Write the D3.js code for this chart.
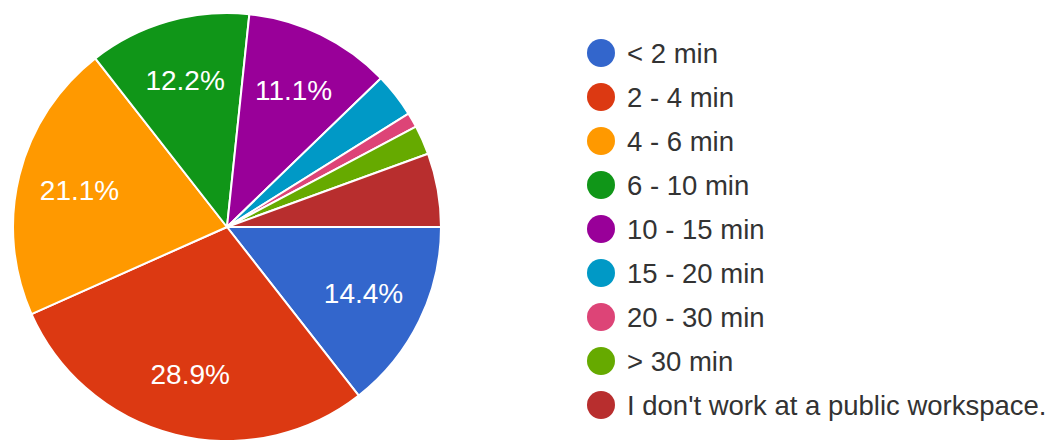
<!DOCTYPE html>
<html>
<head>
<meta charset="utf-8">
<script src="https://cdn.jsdelivr.net/npm/d3@7"></script>
<style>
  html, body { margin: 0; padding: 0; background: #fff; }
  svg { display: block; font-family: "Liberation Sans", Arial, sans-serif; }
</style>
</head>
<body>
<svg id="chart" width="1050" height="440"></svg>
<script>
// Survey answers: time spent finding a seat at a public workspace
const categories = ["< 2 min", "2 - 4 min", "4 - 6 min", "6 - 10 min", "10 - 15 min",
  "15 - 20 min", "20 - 30 min", "> 30 min", "I don't work at a public workspace."];
const responses = [13, 26, 19, 11, 10, 3, 1, 2, 5];
const palette = ["#3366cc", "#dc3912", "#ff9900", "#109618", "#990099",
  "#0099c6", "#dd4477", "#66aa00", "#b82e2e"];

const svg = d3.select("#chart");
const cx = 227, cy = 227, radius = 214;
const total = d3.sum(responses);

const color = d3.scaleOrdinal().domain(categories).range(palette);

const pie = d3.pie()
  .value(d => d.value)
  .sort(null)
  .startAngle(Math.PI / 2)
  .endAngle(Math.PI / 2 + 2 * Math.PI);

const data = categories.map((c, i) => ({ name: c, value: responses[i] }));
const arcs = pie(data);

const arc = d3.arc().innerRadius(0).outerRadius(radius);
const labelArc = d3.arc().innerRadius(radius * 0.71).outerRadius(radius * 0.71);

const g = svg.append("g").attr("transform", `translate(${cx},${cy})`);

g.selectAll("path.slice")
  .data(arcs)
  .join("path")
  .attr("class", "slice")
  .attr("d", arc)
  .attr("fill", d => color(d.data.name))
  .attr("stroke", "#fff")
  .attr("stroke-width", 2)
  .attr("stroke-linejoin", "round");

// Percent labels only on slices large enough to hold them
g.selectAll("text.pct")
  .data(arcs.filter(d => d.data.value / total >= 0.08))
  .join("text")
  .attr("class", "pct")
  .attr("transform", d => `translate(${labelArc.centroid(d)})`)
  .attr("text-anchor", "middle")
  .attr("dominant-baseline", "central")
  .attr("fill", "#fff")
  .attr("font-size", 28)
  .text(d => (d.data.value / total * 100).toFixed(1) + "%");

// Legend
const legendY = d3.scalePoint().domain(categories).range([53, 405]);
const legend = svg.append("g");
const rows = legend.selectAll("g.row")
  .data(categories)
  .join("g")
  .attr("class", "row")
  .attr("transform", d => `translate(601,${legendY(d)})`);

rows.append("circle")
  .attr("r", 14)
  .attr("fill", d => color(d));

rows.append("text")
  .attr("x", 26)
  .attr("dominant-baseline", "central")
  .attr("fill", "#333")
  .attr("font-size", 27.5)
  .text(d => d);
</script>
</body>
</html>
